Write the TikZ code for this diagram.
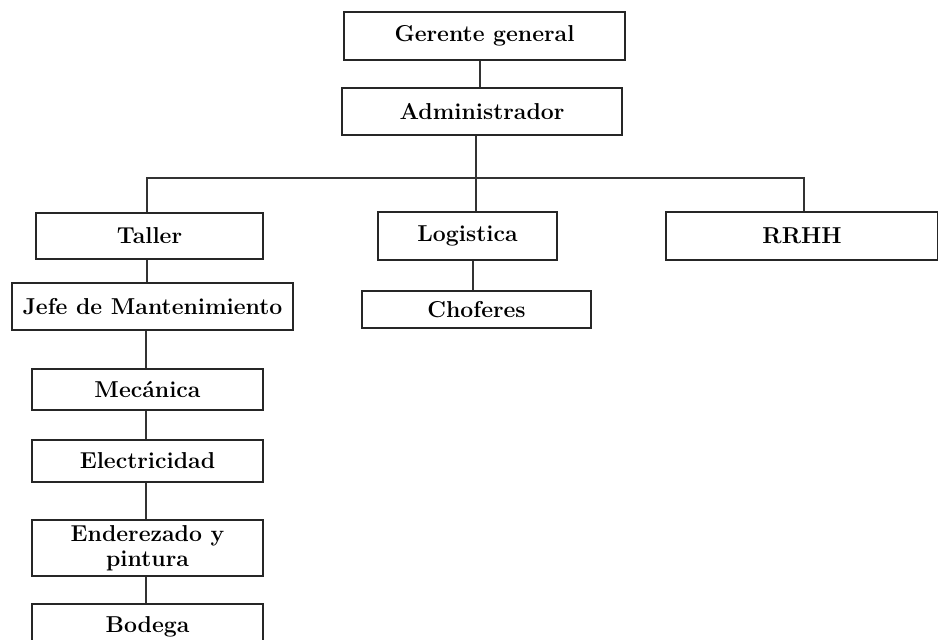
\documentclass[tikz,border=0pt]{standalone}
\usetikzlibrary{calc}
\begin{document}
\begin{tikzpicture}[x=1pt,y=-1pt,
  box/.style={draw=black!85, line width=2.7pt, fill=white, inner sep=0pt,
    font=\fontsize{23}{25}\selectfont\bfseries, align=center},
  link/.style={draw=black!80, line width=2.7pt}]
\useasboundingbox[fill=white] (0,0) rectangle (938,640);
\clip (0,0) rectangle (938,640);

% top of the chart
\node[box, minimum width=281, minimum height=48] (gg)  at (484.5,36)  {Gerente general};
\node[box, minimum width=280, minimum height=47] (adm) at (482,111.5) {Administrador};

% second level
\node[box, minimum width=227, minimum height=46] (tal)  at (149.5,236) {Taller};
\node[box, minimum width=179, minimum height=48] (log)  at (467.5,236) {Logistica};
\node[box, minimum width=272, minimum height=48] (rrhh) at (802,236)   {RRHH};

% under Logistica
\node[box, minimum width=229, minimum height=37] (cho) at (476.5,309.5) {Choferes};

% workshop column
\node[box, minimum width=281, minimum height=47] (jef) at (152.5,306.5) {Jefe de Mantenimiento};
\node[box, minimum width=231, minimum height=41] (mec) at (147.5,389.5) {Mecánica};
\node[box, minimum width=231, minimum height=42] (ele) at (147.5,461)   {Electricidad};
\node[box, minimum width=231, minimum height=56] (end) at (147.5,548)   {Enderezado y\\pintura};
\node[box, minimum width=231, minimum height=46] (bod) at (147.5,627)   {Bodega};

% connectors
\coordinate (bus) at (476,178);
\path[link] (480,0 |- gg.south) -- (480,0 |- adm.north);
\path[link] (bus |- adm.south) -- (bus |- log.north);
\path[link] (147,0 |- tal.north) |- (bus) -| (804,0 |- rrhh.north);
\path[link] (147,0 |- tal.south) -- (147,0 |- jef.north);
\path[link] (473,0 |- log.south) -- (473,0 |- cho.north);
\path[link] (146,0 |- jef.south) -- (146,0 |- mec.north);
\path[link] (146,0 |- mec.south) -- (146,0 |- ele.north);
\path[link] (146,0 |- ele.south) -- (146,0 |- end.north);
\path[link] (146,0 |- end.south) -- (146,0 |- bod.north);
\end{tikzpicture}
\end{document}
